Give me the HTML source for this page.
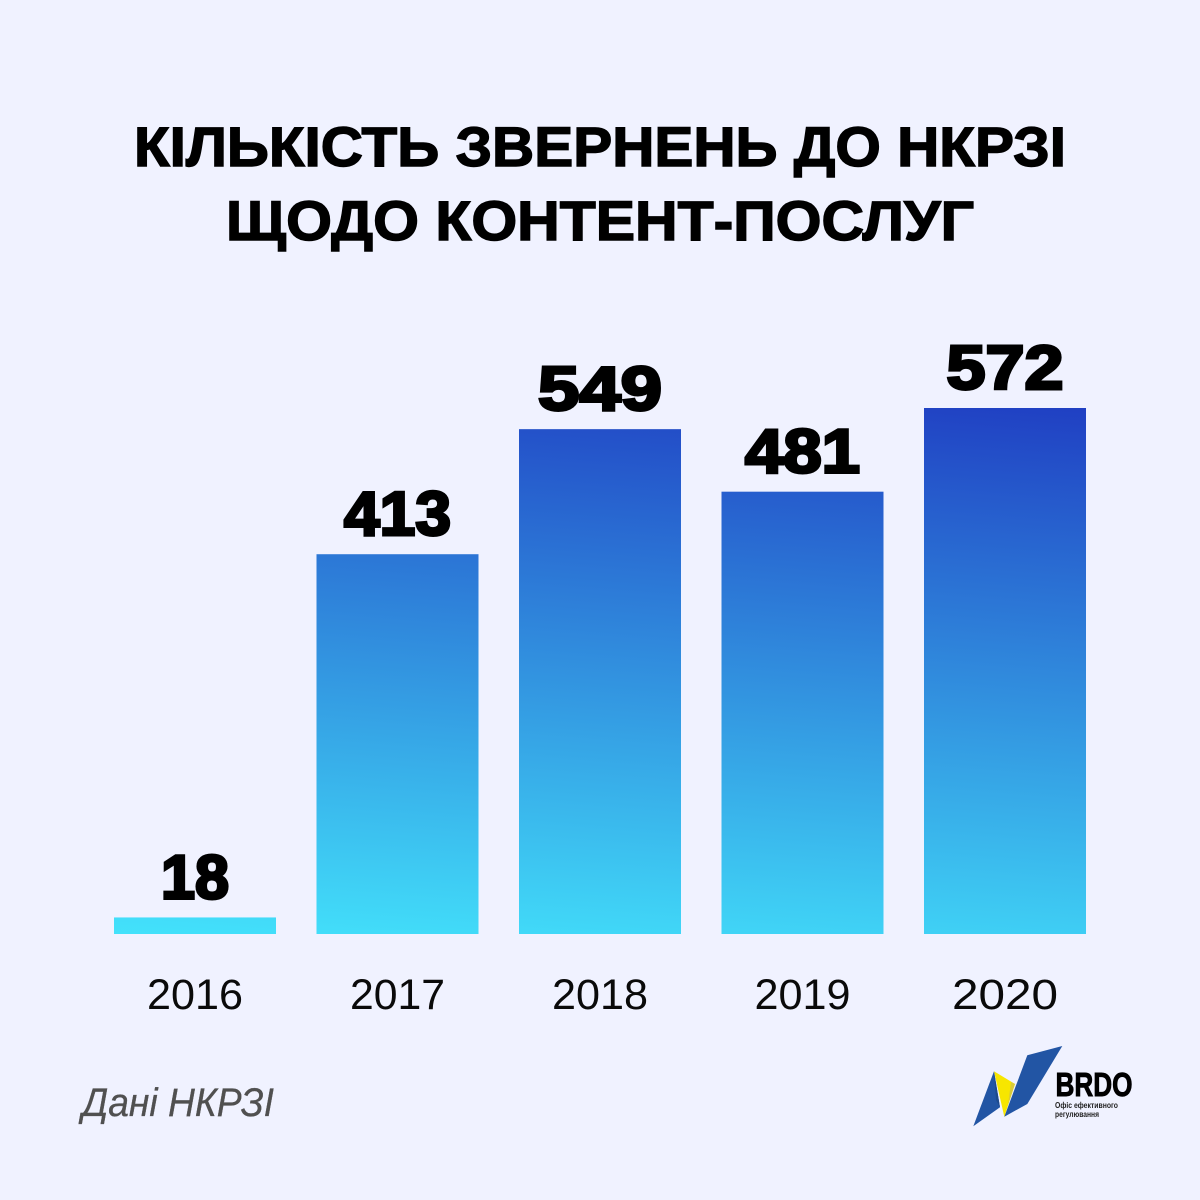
<!DOCTYPE html>
<html lang="uk">
<head>
<meta charset="utf-8">
<title>Кількість звернень до НКРЗІ</title>
<style>
html,body{margin:0;padding:0;background:#f0f2ff;}
svg{display:block;font-family:"Liberation Sans",sans-serif;}
</style>
</head>
<body>
<svg id="chart" xmlns="http://www.w3.org/2000/svg" width="1200" height="1200" viewBox="0 0 1200 1200">
  <defs>
    <linearGradient id="barGradient" gradientUnits="userSpaceOnUse" x1="114" y1="934" x2="161" y2="336">
      <stop offset="0" stop-color="#43e2fb"/>
      <stop offset="1" stop-color="#2040c3"/>
    </linearGradient>
  </defs>
  <rect x="0" y="0" width="1200" height="1200" fill="#f0f2ff"/>
  <g font-weight="700" font-size="56" fill="#000" text-anchor="middle" stroke="#000" stroke-width="1.4">
    <text x="600" y="166" textLength="932" lengthAdjust="spacingAndGlyphs">КІЛЬКІСТЬ ЗВЕРНЕНЬ ДО НКРЗІ</text>
    <text x="600" y="240" textLength="748" lengthAdjust="spacingAndGlyphs">ЩОДО КОНТЕНТ-ПОСЛУГ</text>
  </g>
  <g id="bars"></g>
  <g id="value-labels"></g>
  <g id="year-labels"></g>
  <text x="82" y="1116" font-size="40" font-style="italic" fill="#505050" stroke="#505050" stroke-width="0.3" textLength="192" lengthAdjust="spacingAndGlyphs">Дані НКРЗІ</text>
  <g>
    <polygon points="1062.3,1046 1027.3,1055.3 1004.3,1116.7 1027.3,1104" fill="#2255a4"/>
    <polygon points="994,1071.3 973.3,1126.3 1000,1107.3" fill="#2255a4"/>
    <polygon points="994,1071.3 1015,1084 1004.3,1116.7" fill="#f7e600"/>
    <polygon points="1011,1082 1015,1084 1008,1105" fill="#d9cb3a"/>
    <polygon points="994,1071.3 1000,1107.3 996,1100" fill="#1d4a8c"/>
    <text x="1055.5" y="1096" font-size="33" font-weight="700" fill="#000" stroke="#000" stroke-width="0.9" textLength="77" lengthAdjust="spacingAndGlyphs">BRDO</text>
    <text x="1055" y="1108" font-size="8.5" font-weight="700" fill="#222" textLength="63" lengthAdjust="spacingAndGlyphs">Офіс ефективного</text>
    <text x="1055" y="1117" font-size="8.5" font-weight="700" fill="#222" textLength="44" lengthAdjust="spacingAndGlyphs">регулювання</text>
  </g>
</svg>
<script>
const years = ['2016', '2017', '2018', '2019', '2020'];
const values = [18, 413, 549, 481, 572];

const SVG_NS = 'http://www.w3.org/2000/svg';
const BASELINE_Y = 934;
const PX_PER_UNIT = 526 / 572;
const FIRST_BAR_X = 114;
const BAR_STEP = 202.5;
const BAR_WIDTH = 162;

function xScale(index) {
  return FIRST_BAR_X + index * BAR_STEP;
}
function yScale(value) {
  return BASELINE_Y - value * PX_PER_UNIT;
}
/* The reference typeface has uneven digit widths; approximate them per glyph. */
function valueTextWidth(text) {
  const widths = { '0': 42, '1': 26, '2': 40, '3': 37, '4': 47, '5': 39, '6': 42, '7': 41, '8': 45, '9': 41 };
  return text.split('').reduce(function (sum, ch) { return sum + widths[ch]; }, 0);
}
function yearTextWidth(text) {
  const widths = { '0': 27, '1': 17, '2': 26, '6': 26, '7': 25, '8': 26, '9': 26 };
  return text.split('').reduce(function (sum, ch) { return sum + (widths[ch] || 26); }, 0);
}

const barsGroup = document.getElementById('bars');
const valuesGroup = document.getElementById('value-labels');
const yearsGroup = document.getElementById('year-labels');

years.forEach(function (year, i) {
  const x = xScale(i);
  const top = yScale(values[i]);
  const centre = x + BAR_WIDTH / 2;
  const valueText = String(values[i]);

  const bar = document.createElementNS(SVG_NS, 'rect');
  
  
  bar.setAttribute('x', x);
  bar.setAttribute('y', top);
  bar.setAttribute('width', BAR_WIDTH);
  bar.setAttribute('height', BASELINE_Y - top);
  bar.setAttribute('fill', 'url(#barGradient)');
  barsGroup.appendChild(bar);

  const valueLabel = document.createElementNS(SVG_NS, 'text');
  
  
  valueLabel.setAttribute('x', centre);
  valueLabel.setAttribute('y', top - 19);
  valueLabel.setAttribute('text-anchor', 'middle');
  valueLabel.setAttribute('font-size', '62');
  valueLabel.setAttribute('font-weight', '700');
  valueLabel.setAttribute('fill', '#000');
  valueLabel.setAttribute('stroke', '#000');
  valueLabel.setAttribute('stroke-width', '3');
  valueLabel.setAttribute('textLength', valueTextWidth(valueText) - 3);
  valueLabel.setAttribute('lengthAdjust', 'spacingAndGlyphs');
  valueLabel.textContent = valueText;
  valuesGroup.appendChild(valueLabel);

  const yearLabel = document.createElementNS(SVG_NS, 'text');
  
  
  yearLabel.setAttribute('x', centre);
  yearLabel.setAttribute('y', 1009);
  yearLabel.setAttribute('text-anchor', 'middle');
  yearLabel.setAttribute('font-size', '43');
  yearLabel.setAttribute('fill', '#0a0a0a');
  yearLabel.setAttribute('textLength', yearTextWidth(year));
  yearLabel.setAttribute('lengthAdjust', 'spacingAndGlyphs');
  yearLabel.textContent = year;
  yearsGroup.appendChild(yearLabel);
});
</script>
</body>
</html>
